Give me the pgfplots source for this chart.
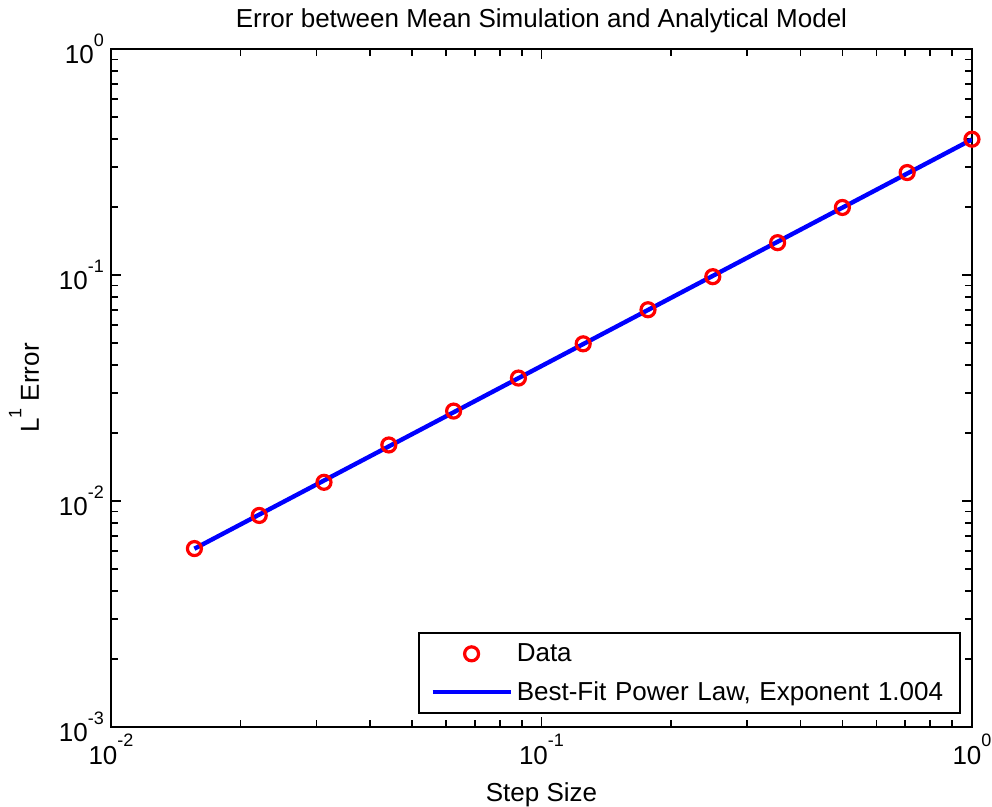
\documentclass[border=0pt]{standalone}
\usepackage{fontspec}
\setmainfont{Liberation Sans}
\usepackage{pgfplots}
\pgfplotsset{compat=1.18}
% MATLAB-like raised exponent
\newcommand{\sups}[1]{\raisebox{0.68em}{\fontsize{9}{9}\selectfont #1}}
\pgfplotsset{
  markleg/.style={legend image code/.code={\draw[##1] plot coordinates {(19.5pt,0pt)};}},
  lineleg/.style={legend image code/.code={\draw[##1] (0pt,0pt) -- (39pt,0pt);}},
}
\begin{document}
\begin{tikzpicture}[font=\fontsize{13}{15}\selectfont]
\useasboundingbox (-55.5pt,-40pt) rectangle (440.5pt,363.5pt);
\begin{loglogaxis}[
  at={(0,0)}, anchor=south west,
  scale only axis,
  width=430.5pt, height=339pt,
  xmin=0.01, xmax=1, ymin=0.001, ymax=1,
  xtick={0.01,0.1,1},
  xticklabels={10\sups{-2},10\sups{-1},10\sups{0}},
  ytick={0.001,0.01,0.1,1},
  yticklabels={10\sups{-3},10\sups{-2},10\sups{-1},10\sups{0}},
  tick align=inside,
  major tick length=5pt, minor tick length=3.5pt,
  axis line style={line width=1pt},
  every tick/.style={black, line width=0.8pt},
  title={Error between Mean Simulation and Analytical Model},
  title style={at={(axis description cs:0.5,1)}, anchor=base, yshift=4.5pt},
  xlabel={Step Size},
  xlabel style={at={(axis description cs:0.5,-0.1)}, anchor=center},
  ylabel={L\sups{1} Error},
  ylabel style={at={(axis description cs:-0.101,0.5)}, anchor=center},
  legend style={at={(0.987,0.019)}, anchor=south east, draw=black, line width=1pt,
    inner xsep=5.5pt, inner ysep=3pt, row sep=4.5pt, cells={anchor=west},
    text width=214pt},
]
\addplot[only marks, mark=o, red, mark size=3.5pt, line width=1.6pt, markleg]
  coordinates {(0.015625,0.00616)(0.0221,0.00863)(0.03125,0.0121)(0.0442,0.0177)
  (0.0625,0.0250)(0.0884,0.0350)(0.125,0.0496)(0.1768,0.0702)(0.25,0.0983)
  (0.3536,0.139)(0.5,0.199)(0.7071,0.284)(1,0.399)};
\addlegendentry{Data}
\addplot[blue, line width=2.2pt, lineleg]
  coordinates {(0.015625,0.00615)(1,0.398)};
\addlegendentry{Best-Fit Power Law, Exponent 1.004}
\end{loglogaxis}
\end{tikzpicture}
\end{document}
